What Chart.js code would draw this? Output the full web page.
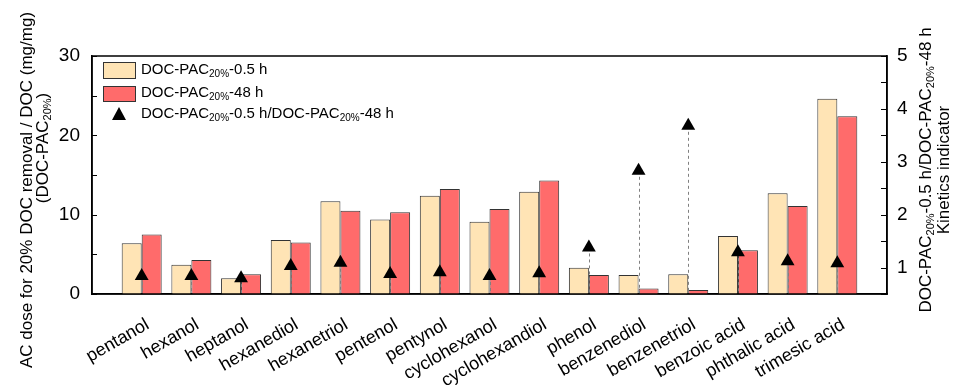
<!DOCTYPE html>
<html>
<head>
<meta charset="utf-8">
<script src="https://cdn.jsdelivr.net/npm/chart.js@4.4.1/dist/chart.umd.min.js"></script>
<style>
  body { margin: 0; background: #fff; }
  #wrap { width: 958px; height: 388px; position: relative; }
</style>
</head>
<body>
<div id="wrap"><canvas id="chart"></canvas></div>
<script>
// data
let compounds = ['pentanol', 'hexanol', 'heptanol', 'hexanediol', 'hexanetriol', 'pentenol', 'pentynol',
    'cyclohexanol', 'cyclohexandiol', 'phenol', 'benzenediol', 'benzenetriol', 'benzoic acid', 'phthalic acid', 'trimesic acid'];
let dose_05h = [6.4, 3.7, 2.0, 6.8, 11.7, 9.4, 12.4, 9.1, 12.9, 3.3, 2.4, 2.5, 7.3, 12.7, 24.6];
let dose_48h = [7.5, 4.3, 2.5, 6.5, 10.5, 10.3, 13.25, 10.7, 14.3, 2.4, 0.7, 0.5, 5.5, 11.1, 22.4];
let kinetics = [0.84, 0.84, 0.80, 1.03, 1.09, 0.88, 0.91, 0.84, 0.89, 1.38, 2.83, 3.68, 1.29, 1.12, 1.08];
let leftTicks = [0, 10, 20, 30];
let rightTicks = [1, 2, 3, 4, 5];

const FONT = '"Liberation Sans", Arial, sans-serif';
const CREAM = '#FFE4B5';
const RED = '#FF6B6B';

// empty slot on each side, like the original axis
function pad(arr){ return [null].concat(arr, [null]); }

// text with subscripts, parts = [[text, isSub], ...]
function richWidth(ctx, parts, size){
    let w = 0;
    parts.forEach(p => {
        ctx.font = (p[1] ? Math.round(size*0.65) : size) + 'px ' + FONT;
        w += ctx.measureText(p[0]).width;
    });
    return w;
}
function drawRich(ctx, parts, x, y, size, align){
    let w = richWidth(ctx, parts, size);
    let cx = align === 'center' ? x - w/2 : x;
    ctx.textBaseline = 'middle';
    ctx.textAlign = 'left';
    ctx.fillStyle = '#000';
    parts.forEach(p => {
        let s = p[1] ? Math.round(size*0.65) : size;
        ctx.font = s + 'px ' + FONT;
        ctx.fillText(p[0], cx, p[1] ? y + size*0.3 : y);
        cx += ctx.measureText(p[0]).width;
    });
}
function drawRotated(ctx, parts, x, y, size){
    ctx.save();
    ctx.translate(x, y);
    ctx.rotate(-Math.PI/2);
    drawRich(ctx, parts, 0, 0, size, 'center');
    ctx.restore();
}

const dropLines = {
    id: 'dropLines',
    beforeDatasetDraw(chart, args){
        if (args.index !== 2) return;
        let ctx = chart.ctx;
        let meta = chart.getDatasetMeta(2);
        ctx.save();
        ctx.strokeStyle = '#808080';
        ctx.lineWidth = 1;
        ctx.setLineDash([3, 3]);
        meta.data.forEach(pt => {
            if (isNaN(pt.y) || pt.skip) return;
            ctx.beginPath();
            ctx.moveTo(Math.round(pt.x) + 0.5, pt.y);
            ctx.lineTo(Math.round(pt.x) + 0.5, chart.chartArea.bottom);
            ctx.stroke();
        });
        ctx.restore();
    }
};

const decorations = {
    id: 'decorations',
    afterDraw(chart){
        let ctx = chart.ctx;
        let a = chart.chartArea;
        let y = chart.scales.y, y1 = chart.scales.y1;
        ctx.save();
        // frame
        ctx.strokeStyle = '#000';
        ctx.lineWidth = 1.5;
        ctx.strokeRect(a.left, a.top, a.right - a.left, a.bottom - a.top);
        // inward ticks
        ctx.lineWidth = 1;
        for (let v = 0; v <= 30; v += 5){
            let py = Math.round(y.getPixelForValue(v)) + 0.5;
            ctx.beginPath(); ctx.moveTo(a.left, py); ctx.lineTo(a.left + 5, py); ctx.stroke();
        }
        for (let v = 0.5; v <= 5; v += 0.5){
            let py = Math.round(y1.getPixelForValue(v)) + 0.5;
            ctx.beginPath(); ctx.moveTo(a.right, py); ctx.lineTo(a.right - 6, py); ctx.stroke();
        }

        // axis titles
        drawRotated(ctx, [['AC dose for 20% DOC removal / DOC (mg/mg)', false]], 27, 190, 17);
        drawRotated(ctx, [['(DOC-PAC', false], ['20%', true], [')', false]], 43, 148, 17);
        drawRotated(ctx, [['DOC-PAC', false], ['20%', true], ['-0.5 h/DOC-PAC', false], ['20%', true], ['-48 h', false]], 926, 170, 17);
        drawRotated(ctx, [['Kinetics indicator', false]], 944, 170, 17);

        // legend
        ctx.lineWidth = 1;
        ctx.strokeStyle = '#333';
        ctx.fillStyle = CREAM;
        ctx.fillRect(103, 62, 32, 16); ctx.strokeRect(103.5, 62.5, 32, 16);
        ctx.fillStyle = RED;
        ctx.fillRect(103, 86, 32, 15); ctx.strokeRect(103.5, 86.5, 32, 15);
        ctx.fillStyle = '#000';
        ctx.beginPath();
        ctx.moveTo(119, 107); ctx.lineTo(126, 120); ctx.lineTo(112, 120); ctx.closePath(); ctx.fill();
        drawRich(ctx, [['DOC-PAC', false], ['20%', true], ['-0.5 h', false]], 141, 70, 15, 'left');
        drawRich(ctx, [['DOC-PAC', false], ['20%', true], ['-48 h', false]], 141, 93, 15, 'left');
        drawRich(ctx, [['DOC-PAC', false], ['20%', true], ['-0.5 h/DOC-PAC', false], ['20%', true], ['-48 h', false]], 141, 114, 15, 'left');
        ctx.restore();
    }
};

new Chart(document.getElementById('chart'), {
    type: 'bar',
    data: {
        labels: [''].concat(compounds, ['']),
        datasets: [{
            label: 'DOC-PAC20%-0.5 h',
            data: pad(dose_05h),
            backgroundColor: CREAM,
            borderColor: '#333',
            borderWidth: 1,
            order: 1,
            yAxisID: 'y'
        }, {
            label: 'DOC-PAC20%-48 h',
            data: pad(dose_48h),
            backgroundColor: RED,
            borderColor: '#333',
            borderWidth: 1,
            order: 1,
            yAxisID: 'y'
        }, {
            type: 'line',
            label: 'DOC-PAC20%-0.5 h/DOC-PAC20%-48 h',
            data: pad(kinetics),
            showLine: false,
            pointStyle: 'triangle',
            pointRadius: 8,
            pointHoverRadius: 8,
            pointBackgroundColor: '#000',
            pointBorderColor: '#000',
            pointBorderWidth: 0,
            order: 0,
            yAxisID: 'y1'
        }]
    },
    options: {
        responsive: true,
        maintainAspectRatio: false,
        animation: false,
        layout: { padding: { top: 56, left: 0, right: 0, bottom: 0 } },
        categoryPercentage: 0.805,
        barPercentage: 1.0,
        plugins: { legend: { display: false }, tooltip: { enabled: false } },
        scales: {
            x: {
                offset: false,
                grid: { display: false, drawTicks: false },
                border: { display: true, color: '#000', width: 1.5 },
                ticks: {
                    autoSkip: false,
                    minRotation: 30,
                    maxRotation: 30,
                    padding: 20,
                    labelOffset: 6,
                    color: '#000',
                    font: { family: FONT, size: 18 }
                },
                afterFit: s => { s.height = 94; }
            },
            y: {
                position: 'left',
                min: 0,
                max: 30,
                grid: { display: false, drawTicks: false },
                border: { display: true, color: '#000', width: 1.5 },
                afterBuildTicks: s => { s.ticks = leftTicks.map(v => ({ value: v })); },
                ticks: { padding: 12, color: '#000', font: { family: FONT, size: 19 } },
                afterFit: s => { s.width = 92; }
            },
            y1: {
                position: 'right',
                min: 0.5,
                max: 5,
                grid: { display: false, drawTicks: false },
                border: { display: true, color: '#000', width: 1.5 },
                afterBuildTicks: s => { s.ticks = rightTicks.map(v => ({ value: v })); },
                ticks: { padding: 10, color: '#000', font: { family: FONT, size: 19 } },
                afterFit: s => { s.width = 71; }
            }
        }
    },
    plugins: [dropLines, decorations]
});
</script>
</body>
</html>
